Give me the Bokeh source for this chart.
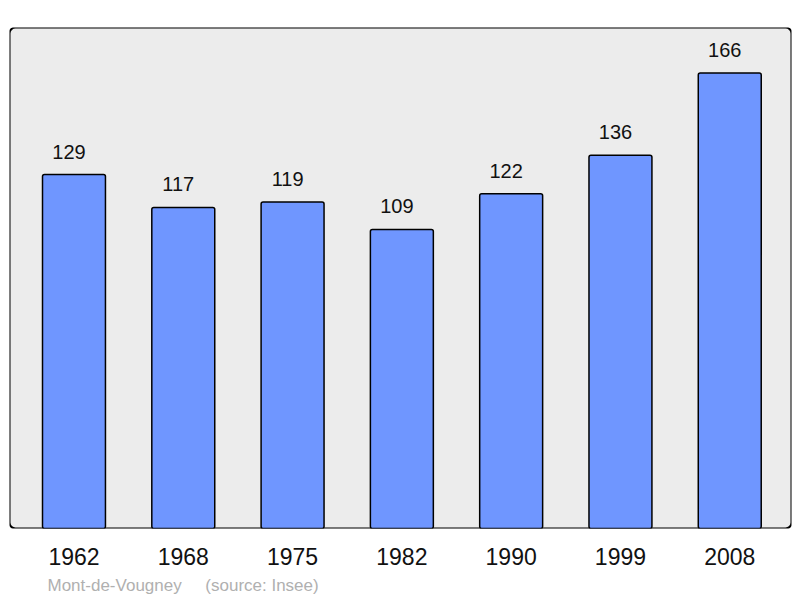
from bokeh.plotting import figure
from bokeh.models import ColumnDataSource, BoxAnnotation, FixedTicker, Title
from bokeh.core.properties import value
from bokeh.embed import file_html
from bokeh.resources import INLINE

# population per census year
years = ["1962", "1968", "1975", "1982", "1990", "1999", "2008"]
population = [129, 117, 119, 109, 122, 136, 166]

idx = list(range(len(years)))
src = ColumnDataSource(data=dict(x=idx, pop=population, lbl=[str(v) for v in population]))

p = figure(frame_width=782, frame_height=501,
           x_range=(-0.59, 6.565), y_range=(0, 182.6),
           y_axis_location=None,
           min_border_left=9, min_border_right=1, min_border_top=27, min_border_bottom=0,
           toolbar_location=None, output_backend="svg")

p.outline_line_color = None
p.xgrid.visible = False
p.ygrid.visible = False
p.background_fill_color = "white"
p.border_fill_color = "white"

# grey panel with rounded corners
panel = BoxAnnotation(fill_color="#ececec", fill_alpha=1.0, line_color="black",
                      line_alpha=1.0, line_width=2, border_radius=6, level="underlay")
p.add_layout(panel)

p.vbar(x="x", top="pop", width=0.576, bottom=0, source=src,
       fill_color="#6f96ff", line_color="black", line_width=1.5, border_radius=2)

p.text(x="x", y="pop", text="lbl", source=src, text_align="center",
       text_baseline="alphabetic", x_offset=-5, y_offset=-23, text_font_size="20px",
       text_font=value("Liberation Sans"), text_color="#111111")

ax = p.xaxis[0]
ax.ticker = FixedTicker(ticks=idx)
ax.major_label_overrides = {i: y for i, y in zip(idx, years)}
ax.axis_line_color = None
ax.major_tick_line_color = None
ax.minor_tick_line_color = None
ax.major_tick_out = 0
ax.major_tick_in = 0
ax.major_label_standoff = 19
ax.major_label_text_font = "Liberation Sans"
ax.major_label_text_font_size = "23px"
ax.major_label_text_color = "#111111"

footer = Title(text="Mont-de-Vougney\u00a0\u00a0\u00a0\u00a0\u00a0(source: Insee)",
               align="left", offset=38, standoff=13,
               text_font="Liberation Sans", text_font_size="17px",
               text_font_style="normal", text_color="#b0b0b0")
p.add_layout(footer, "below")

open("out.html", "w").write(file_html(p, INLINE))
